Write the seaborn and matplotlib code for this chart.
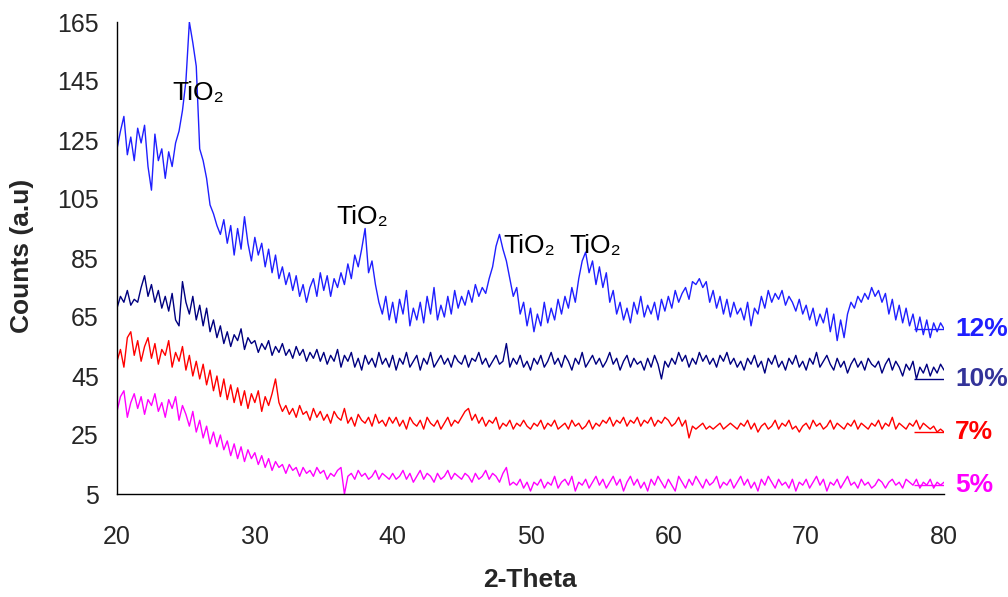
import numpy as np
import pandas as pd
import matplotlib
matplotlib.use("Agg")
import matplotlib.pyplot as plt
import seaborn as sns

# 2-Theta grid (degrees), step 0.25
two_theta = [20 + 0.25 * i for i in range(241)]

counts_12 = [
    122, 128, 133, 120, 126, 118, 129, 124, 130, 116, 108, 127, 118, 122, 112, 121, 116, 124, 128, 135,
    145, 165, 158, 150, 122, 118, 112, 103, 100, 96, 93, 98, 90, 96, 86, 95, 88, 99, 90, 84,
    92, 86, 90, 82, 88, 80, 86, 78, 82, 76, 80, 74, 79, 72, 76, 70, 75, 78, 72, 80,
    74, 79, 72, 78, 75, 80, 76, 83, 78, 86, 82, 88, 95, 80, 84, 76, 70, 66, 72, 64,
    70, 63, 71, 66, 74, 62, 68, 64, 70, 63, 72, 66, 75, 64, 69, 65, 72, 66, 74, 68,
    72, 69, 74, 70, 76, 72, 75, 73, 78, 82, 89, 93, 88, 84, 78, 72, 75, 66, 70, 62,
    68, 60, 66, 62, 70, 63, 68, 64, 71, 66, 72, 68, 75, 70, 78, 84, 87, 80, 84, 76,
    82, 75, 80, 70, 74, 66, 70, 64, 68, 63, 70, 66, 72, 65, 69, 66, 70, 64, 71, 67,
    72, 68, 74, 70, 73, 75, 71, 77, 76, 78, 75, 77, 70, 74, 68, 72, 66, 71, 65, 70,
    66, 68, 64, 70, 62, 68, 66, 72, 68, 74, 70, 73, 71, 74, 69, 72, 70, 67, 71, 66,
    69, 64, 68, 62, 66, 63, 68, 60, 66, 57, 64, 58, 66, 70, 68, 72, 70, 73, 71, 75,
    72, 74, 70, 73, 66, 71, 64, 69, 63, 68, 62, 66, 60, 65, 59, 64, 58, 63, 60, 63,
    61,
]

counts_10 = [
    68, 72, 70, 74, 69, 71, 70, 75, 79, 72, 76, 70, 74, 68, 72, 67, 73, 64, 62, 77,
    70, 66, 72, 64, 69, 62, 68, 60, 64, 58, 62, 56, 60, 55, 59, 57, 61, 54, 58, 56,
    57, 53, 56, 54, 57, 52, 55, 53, 56, 52, 54, 51, 55, 52, 54, 50, 53, 51, 54, 50,
    53, 49, 52, 50, 54, 48, 52, 50, 53, 48, 51, 47, 52, 49, 51, 48, 53, 49, 51, 48,
    52, 47, 51, 49, 53, 48, 50, 52, 47, 51, 49, 53, 48, 50, 52, 49, 51, 48, 52, 50,
    49, 52, 48, 51, 50, 53, 49, 51, 48, 50, 52, 49, 50, 56, 48, 51, 49, 52, 48, 50,
    47, 51, 49, 52, 48, 50, 53, 49, 51, 48, 52, 50, 47, 51, 49, 53, 48, 50, 52, 49,
    51, 48, 50, 53, 49, 51, 47, 50, 52, 48, 51, 49, 50, 47, 51, 48, 52, 49, 44, 50,
    48, 51, 49, 53, 50, 52, 48, 51, 49, 53, 50, 52, 49, 51, 48, 52, 50, 53, 49, 51,
    48, 50, 47, 51, 49, 52, 48, 50, 46, 51, 49, 52, 48, 50, 47, 51, 49, 52, 48, 50,
    47, 51, 49, 53, 48, 50, 52, 49, 47, 51, 48, 50, 46, 49, 51, 48, 50, 47, 51, 49,
    48, 50, 46, 49, 51, 47, 50, 48, 45, 49, 47, 50, 44, 48, 46, 49, 45, 48, 46, 49,
    47,
]

counts_7 = [
    50, 54, 48, 58, 60, 52, 57, 50, 55, 58, 51, 56, 49, 54, 52, 57, 48, 53, 50, 55,
    47, 52, 45, 50, 44, 49, 42, 47, 40, 45, 38, 44, 37, 42, 36, 41, 35, 40, 34, 39,
    36, 40, 33, 38, 35, 39, 44, 36, 33, 35, 32, 34, 31, 35, 32, 33, 30, 34, 31, 33,
    30, 32, 29, 33, 31, 30, 34, 29, 31, 28, 32, 30, 29, 31, 28, 32, 29, 30, 28, 31,
    29, 31, 28, 30, 27, 31, 29, 28, 30, 27, 31, 29, 28, 30, 27, 29, 31, 28, 30, 29,
    31, 33, 34, 30, 32, 29, 31, 28, 30, 29, 31, 27, 29, 28, 30, 27, 29, 28, 30, 28,
    27, 29, 28, 30, 27, 29, 28, 30, 27, 28, 29, 27, 30, 28, 29, 27, 28, 30, 27, 29,
    28, 30, 29, 31, 28, 30, 29, 31, 28, 30, 29, 31, 28, 30, 29, 31, 28, 30, 29, 31,
    30, 28, 29, 31, 28, 30, 24, 28, 27, 28, 29, 27, 28, 27, 28, 29, 27, 28, 29, 28,
    27, 29, 28, 30, 27, 29, 26, 28, 29, 27, 28, 30, 27, 29, 28, 30, 27, 28, 26, 28,
    29, 27, 30, 28, 29, 27, 28, 30, 27, 29, 28, 27, 29, 28, 30, 27, 29, 28, 27, 29,
    28, 30, 27, 29, 28, 31, 27, 29, 28, 27, 29, 28, 30, 27, 29, 28, 27, 28, 26, 27,
    26,
]

counts_5 = [
    33, 38, 40, 31, 36, 39, 34, 38, 32, 37, 35, 39, 33, 36, 31, 37, 34, 38, 30, 35,
    32, 28, 33, 26, 30, 24, 28, 22, 26, 21, 25, 20, 23, 18, 22, 17, 21, 16, 20, 17,
    19, 15, 18, 14, 17, 13, 16, 14, 15, 12, 15, 13, 14, 11, 14, 12, 13, 11, 14, 12,
    13, 10, 12, 11, 13, 14, 5, 11, 12, 10, 13, 11, 12, 10, 11, 13, 10, 12, 11, 10,
    12, 10, 11, 13, 10, 12, 9, 11, 13, 10, 12, 11, 9, 12, 10, 11, 13, 10, 12, 11,
    10, 12, 11, 9, 12, 10, 11, 13, 10, 12, 11, 9, 12, 14, 8, 9, 8, 10, 7, 9,
    6, 9, 8, 10, 7, 9, 8, 11, 7, 9, 10, 8, 11, 6, 9, 8, 10, 7, 9, 11,
    8, 10, 7, 9, 11, 8, 10, 6, 9, 11, 8, 10, 7, 9, 6, 10, 8, 11, 9, 7,
    10, 8, 6, 11, 9, 7, 10, 8, 11, 9, 7, 10, 8, 9, 11, 7, 9, 8, 10, 7,
    9, 11, 8, 10, 7, 9, 6, 10, 8, 11, 9, 7, 10, 8, 9, 7, 10, 6, 9, 8,
    10, 7, 9, 11, 8, 10, 6, 9, 8, 10, 7, 9, 11, 8, 9, 7, 10, 8, 9, 7,
    8, 10, 9, 7, 9, 10, 8, 9, 7, 10, 9, 8, 10, 7, 9, 8, 10, 7, 9, 8,
    9,
]

series_names = ["12%", "10%", "7%", "5%"]
series_colors = ["#1f1fff", "#000080", "#ff0000", "#ff00ff"]
label_colors = ["#1f1fff", "#333399", "#ff0000", "#ff00ff"]
label_levels = [61, 44, 26, 8]

peak_labels = ["TiO₂", "TiO₂", "TiO₂", "TiO₂"]
peak_x = [25.9, 37.8, 49.9, 54.7]
peak_y = [141, 99, 89, 89]

x_ticks = [20, 30, 40, 50, 60, 70, 80]
y_ticks = [5, 25, 45, 65, 85, 105, 125, 145, 165]

# ---- build long-form table
frames = []
for name, vals in zip(series_names, [counts_12, counts_10, counts_7, counts_5]):
    frames.append(pd.DataFrame({"2-Theta": two_theta, "Counts": vals, "Sample": name}))
df = pd.concat(frames, ignore_index=True)

sns.set_style("white")
plt.rcParams["font.family"] = ["Liberation Sans", "DejaVu Sans"]

fig = plt.figure(figsize=(10.08, 5.97), dpi=100)
ax = fig.add_axes([117 / 1008, 1 - 494 / 597, (944 - 117) / 1008, (494 - 22) / 597])

sns.lineplot(data=df, x="2-Theta", y="Counts", hue="Sample",
             palette=dict(zip(series_names, series_colors)),
             hue_order=series_names, linewidth=1.0,
             legend=False, ax=ax, estimator=None)

ax.set_xlim(20, 80)
ax.set_ylim(5, 165)
ax.set_xticks(x_ticks)
ax.set_yticks(y_ticks)
ax.tick_params(axis="both", labelsize=18, length=7, width=1, color="black",
               direction="out")
ax.tick_params(axis="x", pad=15)
ax.tick_params(axis="y", pad=6)
for s in ["top", "right"]:
    ax.spines[s].set_visible(False)
for s in ["left", "bottom"]:
    ax.spines[s].set_color("black")
    ax.spines[s].set_linewidth(1)

ax.set_xlabel("")
ax.set_ylabel("")
fig.text(530 / 1008, 1 - 580 / 597, "2-Theta", fontsize=19, fontweight="bold",
         ha="center", va="center")
fig.text(22 / 1008, 1 - 256 / 597, "Counts (a.u)", fontsize=19, fontweight="bold",
         ha="center", va="center", rotation=90)

for txt, xx, yy in zip(peak_labels, peak_x, peak_y):
    ax.text(xx, yy, txt, fontsize=19, ha="center", va="center", color="black")

for name, col, lcol, lv in zip(series_names, series_colors, label_colors, label_levels):
    ax.hlines(lv, 77.8, 80, color=col, linewidth=1.0)
    ax.text(80.8, lv, name, fontsize=19, fontweight="bold", color=lcol,
            ha="left", va="center", clip_on=False)

fig.savefig("out.png", dpi=100)
